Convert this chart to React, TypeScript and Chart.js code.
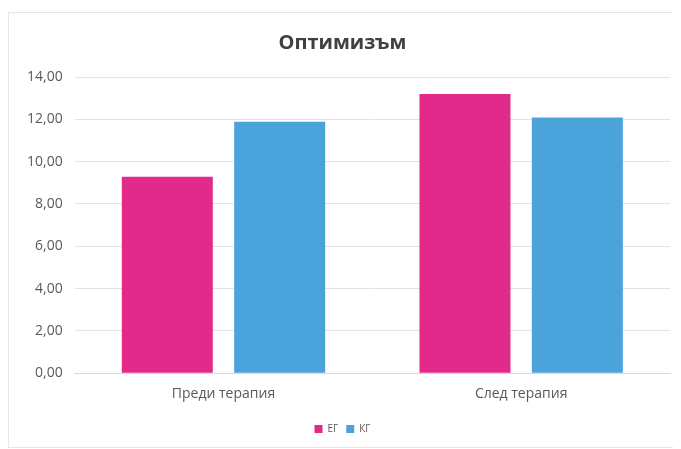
import React, { useEffect, useRef } from "react";
import { Chart, registerables } from "chart.js";

Chart.register(...registerables);

const categories = ["Преди терапия", "След терапия"];
const egValues = [9.29, 13.2];
const kgValues = [11.89, 12.08];
const seriesNames = ["ЕГ", "КГ"];
const yTicks = [0, 2, 4, 6, 8, 10, 12, 14];

export default function App() {
  const ref = useRef<HTMLCanvasElement | null>(null);
  useEffect(() => {
    if (!ref.current) return;
    const chart = new Chart(ref.current, {
      type: "bar",
      data: {
        labels: categories,
        datasets: [
          {
            label: seriesNames[0],
            data: egValues,
            backgroundColor: "#E22A8A",
            barPercentage: 0.81,
            categoryPercentage: 0.755,
          },
          {
            label: seriesNames[1],
            data: kgValues,
            backgroundColor: "#4BA3DC",
            barPercentage: 0.81,
            categoryPercentage: 0.755,
          },
        ],
      },
      options: {
        animation: false,
        responsive: false,
        maintainAspectRatio: false,
        layout: { padding: { left: 6, right: 11, top: 0, bottom: 3 } },
        plugins: {
          title: {
            display: true,
            text: "Оптимизъм",
            color: "#404040",
            font: { family: "Open Sans", size: 20, weight: "bold" },
            padding: { top: 18, bottom: 22 },
          },
          legend: {
            position: "bottom",
            title: {
              display: true,
              text: " ",
              font: { family: "Open Sans", size: 5 },
              padding: 2,
            },
            labels: {
              boxWidth: 8,
              boxHeight: 8,
              color: "#595959",
              font: { family: "Open Sans", size: 10 },
              padding: 8,
            },
          },
          tooltip: { enabled: false },
        },
        scales: {
          x: {
            grid: { display: false },
            border: { color: "#d9d9d9" },
            ticks: { color: "#595959", font: { family: "Open Sans", size: 14 }, padding: 4 },
          },
          y: {
            min: yTicks[0],
            max: yTicks[yTicks.length - 1],
            afterBuildTicks: (axis: any) => {
              axis.ticks = yTicks.map((v) => ({ value: v }));
            },
            grid: { color: "#e3e3e3", drawTicks: false },
            border: { display: false },
            ticks: {
              color: "#595959",
              font: { family: "Open Sans", size: 14 },
              padding: 12,
              callback: (v: any) => Number(v).toFixed(2).replace(".", ","),
            },
          },
        },
      },
    });
    return () => chart.destroy();
  }, []);
  return (
    <div
      style={{
        marginTop: 4,
        width: 673,
        height: 436,
        border: "1px solid #e6e6e6",
        borderRight: "none",
        boxSizing: "border-box",
        background: "#fff",
      }}
    >
      <canvas ref={ref} width={672} height={434} style={{ display: "block" }} />
    </div>
  );
}
